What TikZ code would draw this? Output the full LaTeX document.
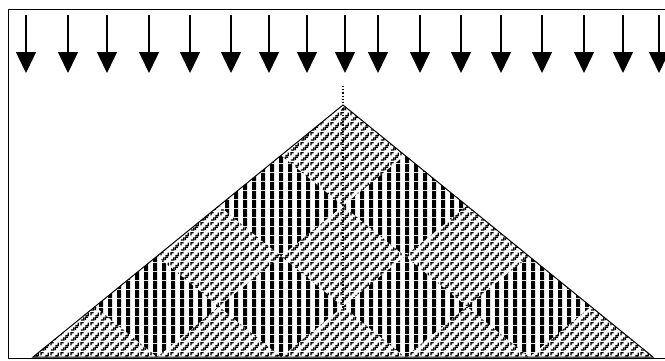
\documentclass[tikz,border=0pt]{standalone}
\usepackage{tikz}
\usetikzlibrary{
  arrows.meta,
  patterns,
}
% gray woven texture of the automaton cells
\pgfdeclarepatternformonly{weave}{\pgfpointorigin}{\pgfpoint{10pt}{10pt}}{\pgfpoint{10pt}{10pt}}{
  \pgfsetlinewidth{1.3pt}
  \pgfpathmoveto{\pgfpoint{1pt}{1pt}}
  \pgfpathlineto{\pgfpoint{4pt}{1pt}}
  \pgfpathlineto{\pgfpoint{4pt}{4pt}}
  \pgfpathmoveto{\pgfpoint{6pt}{6pt}}
  \pgfpathlineto{\pgfpoint{9pt}{6pt}}
  \pgfpathlineto{\pgfpoint{9pt}{9pt}}
  \pgfpathmoveto{\pgfpoint{6pt}{1pt}}
  \pgfpathlineto{\pgfpoint{6pt}{4pt}}
  \pgfpathlineto{\pgfpoint{9pt}{4pt}}
  \pgfpathmoveto{\pgfpoint{1pt}{6pt}}
  \pgfpathlineto{\pgfpoint{1pt}{9pt}}
  \pgfpathlineto{\pgfpoint{4pt}{9pt}}
  \pgfusepath{stroke}
}
% vertical black and white stripes
\pgfdeclarepatternformonly{vstripes}{\pgfpointorigin}{\pgfpoint{9pt}{9pt}}{\pgfpoint{9pt}{9pt}}{
  \pgfpathrectangle{\pgfpoint{0pt}{0pt}}{\pgfpoint{4.5pt}{9pt}}
  \pgfusepath{fill}
}
\tikzset{
  dnarrow/.style={-{Triangle[width=20pt,length=21pt]}, line width=1.4pt, black},
  graycell/.style={pattern=weave, pattern color=black},
  stripecell/.style={pattern=vstripes, pattern color=black},
  frameline/.style={line width=1pt, black},
  edgeline/.style={line width=1pt, black},
  axisline/.style={dotted, line width=1.2pt, black},
}

\begin{document}
\begin{tikzpicture}[x=1pt, y=-1pt]
  \useasboundingbox (0,0) rectangle (665,360);

  % ── Frame ──
  \draw[frameline] (680,9) -- (8,9) -- (8,358) -- (680,358);

  % ── Input arrows ──
  \foreach \x [count=\k] in {26,68,107,149,190,231,269,307,345,378,420,461,501,542,584,623,659} {
    \coordinate (top\k) at (\x,15);
    \coordinate (tip\k) at (\x,73);
    \draw[dnarrow] (top\k) -- (tip\k);
  }

  % ── Triangle of cells ──
  \coordinate (apex) at (343,105);
  \coordinate (baseL) at (33,357);
  \coordinate (baseR) at (653,357);
  \begin{scope}
    \clip (apex) -- (baseL) -- (baseR) -- cycle;
    \foreach \j in {0,...,4} {
      \foreach \i in {0,...,\j} {
        \pgfmathsetmacro\cx{343+(2*\i-\j)*62}
        \pgfmathsetmacro\cy{105+50.4*(\j+1)}
        \ifodd\j
          \path[stripecell] (\cx,\cy-50.4) -- (\cx+62,\cy) -- (\cx,\cy+50.4) -- (\cx-62,\cy) -- cycle;
        \else
          \path[graycell] (\cx,\cy-50.4) -- (\cx+62,\cy) -- (\cx,\cy+50.4) -- (\cx-62,\cy) -- cycle;
        \fi
      }
    }
  \end{scope}
  \draw[edgeline] (apex) -- (baseL) -- (baseR) -- cycle;

  % ── Centre column ──
  \coordinate (axistop) at (343,86);
  \coordinate (axisend) at (343,310);
  \draw[axisline] (axistop) -- (axisend);

\end{tikzpicture}
\end{document}
